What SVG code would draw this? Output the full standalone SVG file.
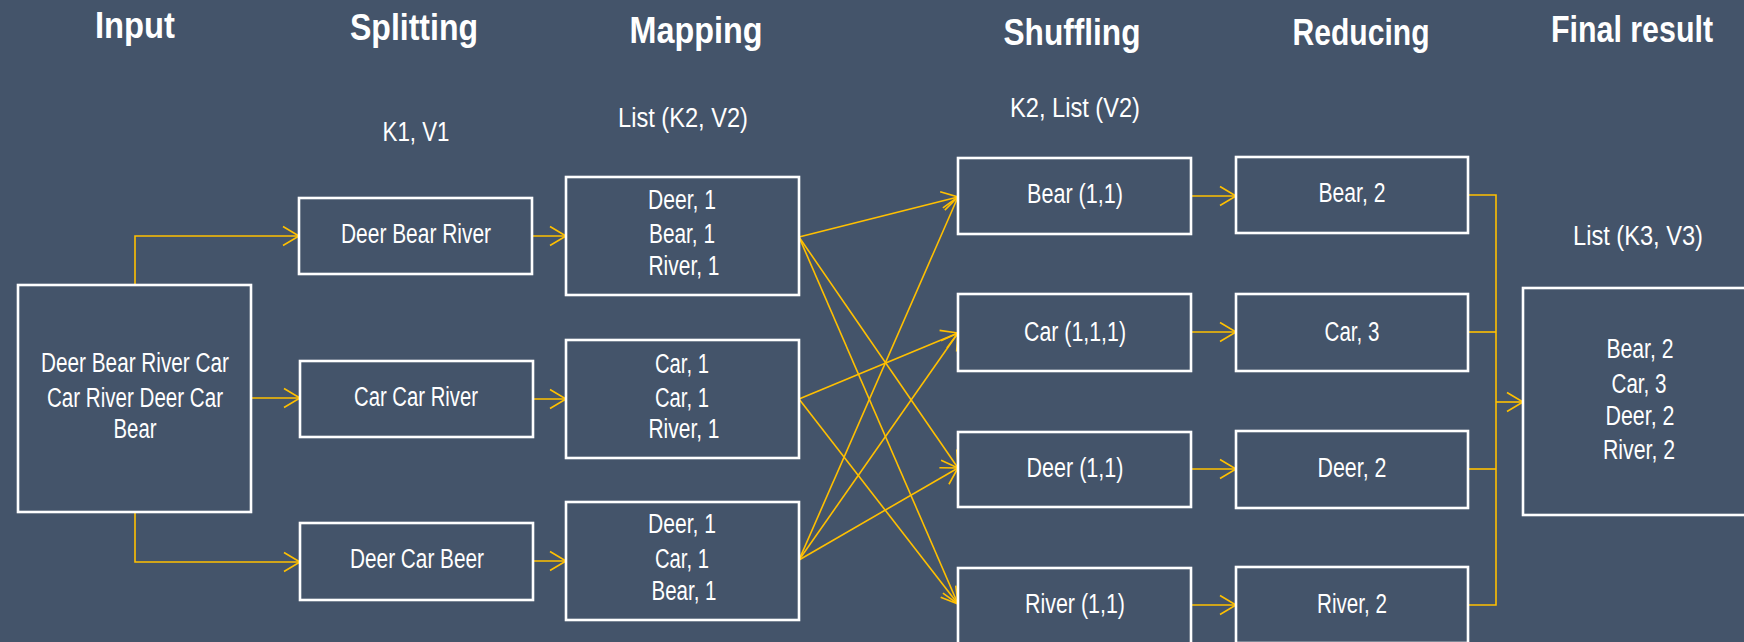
<svg xmlns="http://www.w3.org/2000/svg" width="1744" height="642" viewBox="0 0 1744 642">
<style>
.bg{fill:#44546A}
.box{fill:#44546A;stroke:#FFFFFF;stroke-width:2.6}
.t{font-family:"Liberation Sans Narrow","Liberation Sans",Arial,sans-serif;fill:#FFFFFF;text-anchor:middle;font-size:27px}
.h{font-family:"Liberation Sans Narrow","Liberation Sans",Arial,sans-serif;fill:#FFFFFF;text-anchor:middle;font-size:37px;font-weight:bold}
.c{fill:none;stroke:#FFC000;stroke-width:1.6}
</style>
<defs>
<marker id="ah" markerUnits="userSpaceOnUse" markerWidth="24" markerHeight="24" viewBox="-20 -12 24 24" refX="0" refY="0" orient="auto" overflow="visible">
<path d="M -16 -9.5 L 0 0 L -16 9.5" fill="none" stroke="#FFC000" stroke-width="1.6"/>
</marker>
</defs>
<rect class="bg" x="0" y="0" width="1744" height="642"/>

<g id="titles">
<text class="h" x="135" y="38" textLength="80" lengthAdjust="spacingAndGlyphs">Input</text>
<text class="h" x="414" y="40" textLength="128" lengthAdjust="spacingAndGlyphs">Splitting</text>
<text class="h" x="696" y="43" textLength="133" lengthAdjust="spacingAndGlyphs">Mapping</text>
<text class="h" x="1072" y="45" textLength="137" lengthAdjust="spacingAndGlyphs">Shuffling</text>
<text class="h" x="1361" y="45" textLength="137" lengthAdjust="spacingAndGlyphs">Reducing</text>
<text class="h" x="1632" y="42" font-size="33" textLength="162" lengthAdjust="spacingAndGlyphs">Final result</text>
<text class="t" x="416" y="141" textLength="67" lengthAdjust="spacingAndGlyphs">K1, V1</text>
<text class="t" x="683" y="127" textLength="130" lengthAdjust="spacingAndGlyphs">List (K2, V2)</text>
<text class="t" x="1075" y="117" textLength="130" lengthAdjust="spacingAndGlyphs">K2, List (V2)</text>
<text class="t" x="1638" y="245" textLength="130" lengthAdjust="spacingAndGlyphs">List (K3, V3)</text>
</g>

<g id="connectors">
<polyline class="c" points="135,285 135,236 299,236" marker-end="url(#ah)"/>
<line class="c" x1="251" y1="398" x2="300" y2="398" marker-end="url(#ah)"/>
<polyline class="c" points="135,512 135,562 300,562" marker-end="url(#ah)"/>
<line class="c" x1="532" y1="236" x2="566" y2="236" marker-end="url(#ah)"/>
<line class="c" x1="533" y1="399" x2="566" y2="399" marker-end="url(#ah)"/>
<line class="c" x1="533" y1="561" x2="566" y2="561" marker-end="url(#ah)"/>
<line class="c" x1="799" y1="237" x2="958" y2="197" marker-end="url(#ah)"/>
<line class="c" x1="799" y1="237" x2="958" y2="468" marker-end="url(#ah)"/>
<line class="c" x1="799" y1="237" x2="958" y2="604" marker-end="url(#ah)"/>
<line class="c" x1="799" y1="399" x2="958" y2="333" marker-end="url(#ah)"/>
<line class="c" x1="799" y1="399" x2="958" y2="604" marker-end="url(#ah)"/>
<line class="c" x1="799" y1="560" x2="958" y2="197" marker-end="url(#ah)"/>
<line class="c" x1="799" y1="560" x2="958" y2="333" marker-end="url(#ah)"/>
<line class="c" x1="799" y1="560" x2="958" y2="468" marker-end="url(#ah)"/>
<line class="c" x1="1191" y1="196" x2="1236" y2="196" marker-end="url(#ah)"/>
<line class="c" x1="1191" y1="332" x2="1236" y2="332" marker-end="url(#ah)"/>
<line class="c" x1="1191" y1="469" x2="1236" y2="469" marker-end="url(#ah)"/>
<line class="c" x1="1191" y1="605" x2="1236" y2="605" marker-end="url(#ah)"/>
<polyline class="c" points="1468,195 1496,195 1496,605 1468,605"/>
<line class="c" x1="1468" y1="332" x2="1496" y2="332"/>
<line class="c" x1="1468" y1="469" x2="1496" y2="469"/>
<line class="c" x1="1496" y1="402" x2="1523" y2="402" marker-end="url(#ah)"/>
</g>

<g id="input">
<rect class="box" x="18" y="285" width="233" height="227"/>
<text class="t" x="135" y="372" textLength="188" lengthAdjust="spacingAndGlyphs">Deer Bear River Car</text>
<text class="t" x="135" y="407" textLength="176" lengthAdjust="spacingAndGlyphs">Car River Deer Car</text>
<text class="t" x="135" y="438" textLength="43" lengthAdjust="spacingAndGlyphs">Bear</text>
</g>

<g id="split1">
<rect class="box" x="299" y="198" width="233" height="76"/>
<text class="t" x="416" y="243" textLength="150" lengthAdjust="spacingAndGlyphs">Deer Bear River</text>
</g>
<g id="split2">
<rect class="box" x="300" y="361" width="233" height="76"/>
<text class="t" x="416" y="406" textLength="124" lengthAdjust="spacingAndGlyphs">Car Car River</text>
</g>
<g id="split3">
<rect class="box" x="300" y="523" width="233" height="77"/>
<text class="t" x="417" y="568" textLength="134" lengthAdjust="spacingAndGlyphs">Deer Car Beer</text>
</g>

<g id="map1">
<rect class="box" x="566" y="177" width="233" height="118"/>
<text class="t" x="682" y="209" textLength="68" lengthAdjust="spacingAndGlyphs">Deer, 1</text>
<text class="t" x="682" y="243" textLength="66" lengthAdjust="spacingAndGlyphs">Bear, 1</text>
<text class="t" x="684" y="275" textLength="71" lengthAdjust="spacingAndGlyphs">River, 1</text>
</g>
<g id="map2">
<rect class="box" x="566" y="340" width="233" height="118"/>
<text class="t" x="682" y="373" textLength="54" lengthAdjust="spacingAndGlyphs">Car, 1</text>
<text class="t" x="682" y="407" textLength="54" lengthAdjust="spacingAndGlyphs">Car, 1</text>
<text class="t" x="684" y="438" textLength="71" lengthAdjust="spacingAndGlyphs">River, 1</text>
</g>
<g id="map3">
<rect class="box" x="566" y="502" width="233" height="118"/>
<text class="t" x="682" y="533" textLength="68" lengthAdjust="spacingAndGlyphs">Deer, 1</text>
<text class="t" x="682" y="568" textLength="54" lengthAdjust="spacingAndGlyphs">Car, 1</text>
<text class="t" x="684" y="600" textLength="65" lengthAdjust="spacingAndGlyphs">Bear, 1</text>
</g>

<g id="shuffle-bear">
<rect class="box" x="958" y="158" width="233" height="76"/>
<text class="t" x="1075" y="203" textLength="96" lengthAdjust="spacingAndGlyphs">Bear (1,1)</text>
</g>
<g id="shuffle-car">
<rect class="box" x="958" y="294" width="233" height="77"/>
<text class="t" x="1075" y="341" textLength="102" lengthAdjust="spacingAndGlyphs">Car (1,1,1)</text>
</g>
<g id="shuffle-deer">
<rect class="box" x="958" y="432" width="233" height="75"/>
<text class="t" x="1075" y="477" textLength="97" lengthAdjust="spacingAndGlyphs">Deer (1,1)</text>
</g>
<g id="shuffle-river">
<rect class="box" x="958" y="568" width="233" height="76"/>
<text class="t" x="1075" y="613" textLength="100" lengthAdjust="spacingAndGlyphs">River (1,1)</text>
</g>

<g id="reduce-bear">
<rect class="box" x="1236" y="157" width="232" height="76"/>
<text class="t" x="1352" y="202" textLength="67" lengthAdjust="spacingAndGlyphs">Bear, 2</text>
</g>
<g id="reduce-car">
<rect class="box" x="1236" y="294" width="232" height="77"/>
<text class="t" x="1352" y="341" textLength="55" lengthAdjust="spacingAndGlyphs">Car, 3</text>
</g>
<g id="reduce-deer">
<rect class="box" x="1236" y="431" width="232" height="77"/>
<text class="t" x="1352" y="477" textLength="69" lengthAdjust="spacingAndGlyphs">Deer, 2</text>
</g>
<g id="reduce-river">
<rect class="box" x="1236" y="567" width="232" height="76"/>
<text class="t" x="1352" y="613" textLength="70" lengthAdjust="spacingAndGlyphs">River, 2</text>
</g>

<g id="final">
<rect class="box" x="1523" y="288" width="233" height="227"/>
<text class="t" x="1640" y="358" textLength="67" lengthAdjust="spacingAndGlyphs">Bear, 2</text>
<text class="t" x="1639" y="393" textLength="55" lengthAdjust="spacingAndGlyphs">Car, 3</text>
<text class="t" x="1640" y="425" textLength="69" lengthAdjust="spacingAndGlyphs">Deer, 2</text>
<text class="t" x="1639" y="459" textLength="72" lengthAdjust="spacingAndGlyphs">River, 2</text>
</g>
</svg>
